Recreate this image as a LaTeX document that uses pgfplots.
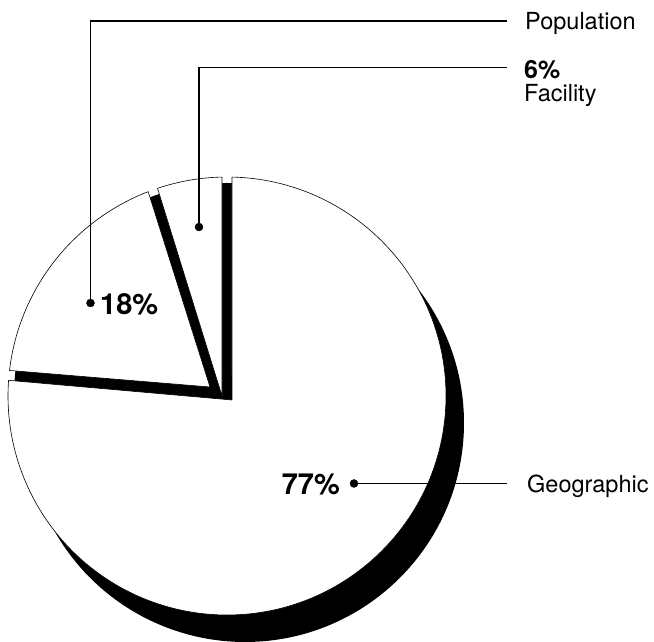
\documentclass[border=0pt]{standalone}
\usepackage{pgfplots}
\pgfplotsset{compat=1.18}
\usepackage{pgfplotstable}
\usepackage{fontspec}
\setmainfont{TeX Gyre Heros}

% slice sizes (share of the pie)
\pgfplotstableread{
name value
Facility 5.5
Population 18.0
Geographic 76.5
}\piedata

\pgfplotstablegetelem{0}{value}\of\piedata \let\vF\pgfplotsretval
\pgfplotstablegetelem{1}{value}\of\piedata \let\vP\pgfplotsretval
\pgfplotstablegetelem{2}{value}\of\piedata \let\vG\pgfplotsretval
\pgfmathsetmacro\tot{\vF+\vP+\vG}
\pgfmathsetmacro\aA{90}
\pgfmathsetmacro\aB{90+360*\vF/\tot}
\pgfmathsetmacro\aC{\aB+360*\vP/\tot}
\pgfmathsetmacro\aD{450}
\def\gap{1.3}
\def\R{219}
\def\cx{227}
\def\cy{246}

% #1 style, #2 #3 apex, #4 start angle, #5 end angle, #6 #7 offset (bp)
\newcommand\pieslice[7]{%
  \path[#1] ([shift={(#6bp,#7bp)}]axis cs:#2,#3)
    -- ([shift={({#4}:\R bp)},shift={(#6bp,#7bp)}]axis cs:\cx,\cy)
    arc[start angle={#4}, end angle={#5}, radius=\R bp] -- cycle;}

\begin{document}
\begin{tikzpicture}
\useasboundingbox (0,0) rectangle (654bp,642bp);
\begin{axis}[
  at={(0,0)}, anchor=south west,
  width=654bp, height=642bp, scale only axis,
  xmin=0, xmax=654, ymin=0, ymax=642,
  hide axis, clip=false]

% black underlay and shadows
\fill[black] (axis cs:\cx,\cy) circle[radius=213bp];
\pieslice{fill=black}{232}{242}{\aD-\gap}{\aC+\gap}{18}{-27}
\pieslice{fill=black}{222}{246}{\aA+\gap}{\aB-\gap}{10}{-13}

% white slices
\pieslice{fill=white, draw=black, line width=0.6bp, line join=round}{232}{242}{\aD-\gap}{\aC+\gap}{0}{0}
\pieslice{fill=white, draw=black, line width=0.6bp, line join=round}{210}{255}{\aB+\gap}{\aC-\gap}{0}{0}
\pieslice{fill=white, draw=black, line width=0.6bp, line join=round}{222}{246}{\aA+\gap}{\aB-\gap}{0}{0}

% leader lines with dots
\addplot[black, line width=1.2bp, mark=*, mark size=4bp, mark indices={1},
  mark options={solid, fill=black, line width=0.4bp}]
  coordinates {(90.5,339) (90.5,621) (507,621)};
\addplot[black, line width=1.2bp, mark=*, mark size=4bp, mark indices={1},
  mark options={solid, fill=black, line width=0.4bp}]
  coordinates {(199,415) (199,574.5) (507,574.5)};
\addplot[black, line width=1.2bp, mark=*, mark size=4bp, mark indices={1},
  mark options={solid, fill=black, line width=0.4bp}]
  coordinates {(354,158.5) (507,158.5)};

% labels
\node[anchor=base west, inner sep=0pt, font=\fontsize{23.5bp}{28bp}\selectfont] at (axis cs:525,612.1) {Population};
\node[anchor=base west, inner sep=0pt, font=\fontsize{25bp}{30bp}\selectfont\bfseries] at (axis cs:524,563.7) {6\%};
\node[anchor=base west, inner sep=0pt, font=\fontsize{23.5bp}{28bp}\selectfont] at (axis cs:524,540) {Facility};
\node[anchor=base west, inner sep=0pt, font=\fontsize{23.5bp}{28bp}\selectfont] at (axis cs:527,149.5) {Geographic};
\node[anchor=base west, inner sep=0pt, font=\fontsize{29bp}{34bp}\selectfont\bfseries] at (axis cs:100,327.7) {18\%};
\node[anchor=base east, inner sep=0pt, font=\fontsize{29bp}{34bp}\selectfont\bfseries] at (axis cs:340,147.7) {77\%};
\end{axis}
\end{tikzpicture}
\end{document}
